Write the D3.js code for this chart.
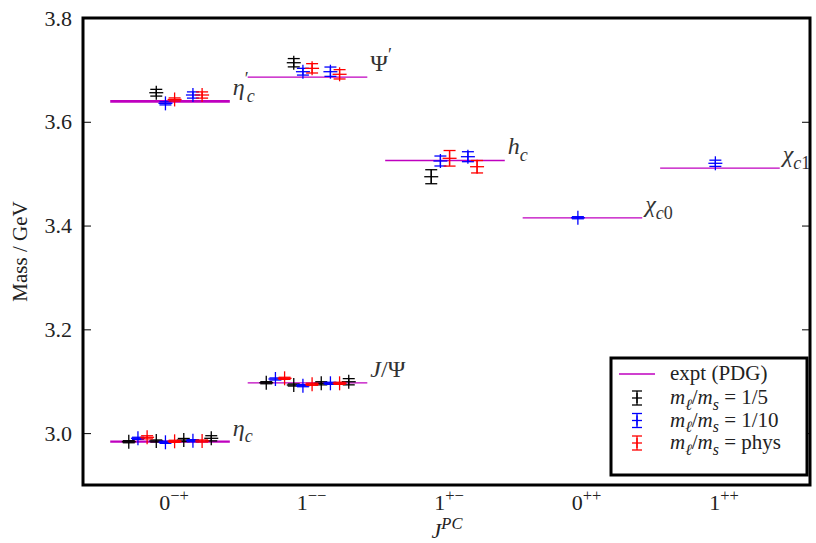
<!DOCTYPE html>
<html>
<head>
<meta charset="utf-8">
<script src="https://cdn.jsdelivr.net/npm/d3@7"></script>
<style>
  body { margin: 0; background: #fff; }
</style>
</head>
<body>
<div id="chart"></div>
<script>
// J^PC channels on the x axis
var channels = [["0", "−+"], ["1", "−−"], ["1", "+−"], ["0", "++"], ["1", "++"]];

// states: which channel, PDG mass
var states = ["eta_c", "eta_c'", "J/Psi", "Psi'", "h_c", "chi_c0", "chi_c1"];
var stateChannel = [0, 0, 1, 1, 2, 3, 4];
var exptMass = [2.9836, 3.6392, 3.0969, 3.6861, 3.5254, 3.4148, 3.5107];

// lattice ensembles (slot) -> series index (0: 1/5, 1: 1/10, 2: phys)
var slotSeries = [0, 1, 2, 0, 1, 2, 0, 1, 2, 0];
var seriesLabels = ["1/5", "1/10", "phys"];
var seriesColors = ["#000000", "#0000ff", "#ff0000"];

// lattice masses per slot, null = not measured
var massEtac   = [2.9834, 2.9900, 2.9919, 2.9848, 2.9823, 2.9842, 2.9867, 2.9854, 2.9848, 2.9900];
var errEtac    = [0.002, 0.002, 0.003, 0.002, 0.002, 0.002, 0.003, 0.002, 0.002, 0.005];
var massEtacP  = [null, null, null, 3.6560, 3.6355, 3.6430, null, 3.6516, 3.6516, null];
var errEtacP   = [null, null, null, 0.0065, 0.003, 0.003, null, 0.006, 0.006, null];
var massJpsi   = [3.0971, 3.1043, 3.1056, 3.0927, 3.0914, 3.0941, 3.0960, 3.0960, 3.0960, 3.0990];
var errJpsi    = [0.002, 0.002, 0.002, 0.002, 0.002, 0.002, 0.003, 0.002, 0.002, 0.006];
var massPsiP   = [null, null, null, 3.7138, 3.6965, 3.7030, null, 3.6965, 3.6915, null];
var errPsiP    = [null, null, null, 0.008, 0.0065, 0.009, null, 0.009, 0.009, null];
var massHc     = [null, null, null, 3.4941, 3.5244, 3.5296, null, 3.5327, 3.5134, null];
var errHc      = [null, null, null, 0.0135, 0.0096, 0.015, null, 0.0096, 0.012, null];
var massChic0  = [null, null, null, null, 3.4151, null, null, null, null, null];
var errChic0   = [null, null, null, null, 0.002, null, null, null, null, null];
var massChic1  = [null, null, null, null, 3.5200, null, null, null, null, null];
var errChic1   = [null, null, null, null, 0.006, null, null, null, null, null];

var latMass = [massEtac, massEtacP, massJpsi, massPsiP, massHc, massChic0, massChic1];
var latErr  = [errEtac, errEtacP, errJpsi, errPsiP, errHc, errChic0, errChic1];

// label pieces: [text, kind, dx]  kind: i / r, "_" sub, "^" sup
var stateLabels = [
  [["η", "i"], ["c", "i_"]],
  [["η", "i"], ["′", "r^"], ["c", "i_", -2]],
  [["J", "i"], ["/", "r"], ["Ψ", "r"]],
  [["Ψ", "r"], ["′", "r^"]],
  [["h", "i"], ["c", "i_"]],
  [["χ", "i"], ["c", "i_"], ["0", "r_"]],
  [["χ", "i"], ["c", "i_"], ["1", "r_"]]
];
var yTicks = [3.0, 3.2, 3.4, 3.6, 3.8];

var FONT = '"Liberation Serif", "DejaVu Serif", "Times New Roman", serif';

/* layout */
var W = 816, H = 543;
var svg = d3.select('#chart').append('svg')
  .attr('width', W).attr('height', H);

var x = d3.scaleLinear().domain([-0.633, 4.655]).range([83, 810]);
var y = d3.scaleLinear().domain([2.9, 3.8]).range([485, 18]);
var slot = d3.scalePoint().domain(d3.range(10)).range([-0.3, 0.3]);
var halfLine = 0.435;

function mathText(sel, parts, size) {
  var t = sel.append('text').attr('font-size', size);
  var cur = 0;
  parts.forEach(function (p) {
    var kind = p[1];
    var shift = kind.indexOf('_') >= 0 ? 0.28 * size : kind.indexOf('^') >= 0 ? -0.42 * size : 0;
    var ts = t.append('tspan').text(p[0]).attr('dy', shift - cur);
    cur = shift;
    if (shift !== 0) ts.attr('font-size', size * 0.75);
    if (kind[0] === 'i') ts.attr('font-style', 'italic');
    if (p[2]) ts.attr('dx', p[2]);
  });
  return t;
}

// y axis ticks, inward on both sides
svg.append('g')
  .attr('transform', 'translate(83,0)')
  .call(d3.axisLeft(y).tickValues(yTicks).tickSize(-8).tickPadding(11).tickFormat(d3.format('.1f')))
  .call(function (g) {
    g.select('.domain').remove();
    g.selectAll('text').attr('font-size', 22).attr('fill', '#222');
    g.selectAll('line').attr('stroke-width', 1);
  });
svg.append('g')
  .attr('transform', 'translate(810,0)')
  .call(d3.axisRight(y).tickValues(yTicks).tickSize(-8).tickFormat(''))
  .call(function (g) { g.select('.domain').remove(); });

// x tick labels
channels.forEach(function (c, i) {
  mathText(svg, [[c[0], 'r'], [c[1], 'r^']], 22)
    .attr('x', x(i) + 4).attr('y', 510).attr('text-anchor', 'middle').attr('fill', '#222');
});

// axis titles
svg.append('text')
  .attr('transform', 'translate(27,' + ((18 + 485) / 2) + ') rotate(-90)')
  .attr('text-anchor', 'middle').attr('font-size', 21).attr('fill', '#222')
  .text('Mass / GeV');
mathText(svg, [['J', 'i'], ['PC', 'i^']], 22)
  .attr('x', 447).attr('y', 538).attr('text-anchor', 'middle').attr('fill', '#222');

// experimental lines
var thick = { "eta_c": 2.4, "eta_c'": 2.8 };
states.forEach(function (s, i) {
  var c = stateChannel[i];
  svg.append('line')
    .attr('x1', x(c - halfLine)).attr('x2', x(c + halfLine))
    .attr('y1', y(exptMass[i])).attr('y2', y(exptMass[i]))
    .attr('stroke', '#bf00bf').attr('stroke-width', thick[s] || 1.3);
  mathText(svg, stateLabels[i], 24)
    .attr('x', x(c + halfLine) + 3).attr('y', y(exptMass[i]) - 6)
    .attr('fill', '#333');
});

// lattice points with error bars
function errbar(g, cx, cy, lo, hi, col, cap, mk) {
  g.append('line').attr('x1', cx).attr('x2', cx).attr('y1', lo).attr('y2', hi);
  g.append('line').attr('x1', cx - cap).attr('x2', cx + cap).attr('y1', lo).attr('y2', lo);
  g.append('line').attr('x1', cx - cap).attr('x2', cx + cap).attr('y1', hi).attr('y2', hi);
  g.append('line').attr('x1', cx - mk).attr('x2', cx + mk).attr('y1', cy).attr('y2', cy);
  g.append('line').attr('x1', cx).attr('x2', cx).attr('y1', cy - mk).attr('y2', cy + mk);
  g.selectAll('line').attr('stroke', col).attr('stroke-width', 1.3);
}

[0, 1, 2].forEach(function (sr) {
  states.forEach(function (s, i) {
    latMass[i].forEach(function (m, k) {
      if (m === null || slotSeries[k] !== sr) return;
      var e = latErr[i][k];
      var cx = x(stateChannel[i] + slot(k));
      errbar(svg.append('g'), cx, y(m), y(m - e), y(m + e), seriesColors[sr], 6, 7);
    });
  });
});

// frame
svg.append('rect')
  .attr('x', 83).attr('y', 18).attr('width', 727).attr('height', 467)
  .attr('fill', 'none').attr('stroke', '#000').attr('stroke-width', 3);

// legend
var lg = svg.append('g');
lg.append('rect')
  .attr('x', 611).attr('y', 358).attr('width', 196).attr('height', 117)
  .attr('fill', '#fff').attr('stroke', '#000').attr('stroke-width', 3);
lg.append('line')
  .attr('x1', 619).attr('x2', 655).attr('y1', 374).attr('y2', 374)
  .attr('stroke', '#bf00bf').attr('stroke-width', 1.3);
lg.append('text').attr('x', 670).attr('y', 380).attr('font-size', 21).attr('fill', '#222').text('expt (PDG)');
seriesLabels.forEach(function (lab, j) {
  var ly = 398 + j * 22.5;
  errbar(lg.append('g'), 637, ly, ly - 7, ly + 7, seriesColors[j], 5, 5);
  mathText(lg, [['m', 'i'], ['ℓ', 'i_'], ['/', 'r'], ['m', 'i'], ['s', 'i_'], [' = ' + lab, 'r']], 21)
    .attr('x', 670).attr('y', ly + 6).attr('fill', '#222');
});

// all text in a serif face
svg.selectAll('text').style('font-family', FONT);
</script>
</body>
</html>
